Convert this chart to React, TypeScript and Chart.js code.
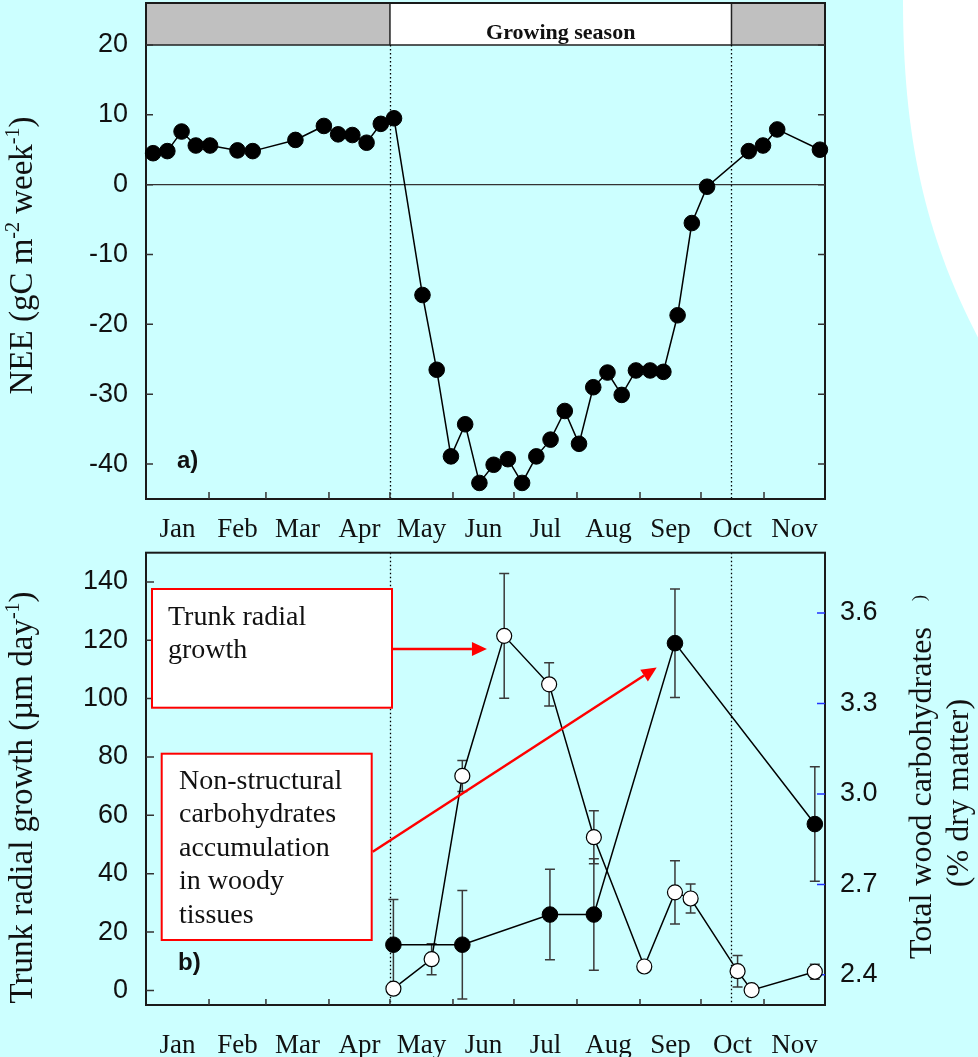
import React, { useEffect, useRef } from "react";
import { Chart, registerables } from "chart.js";

Chart.register(...registerables);

// ---- data -------------------------------------------------------------
const MONTHS = ["Jan", "Feb", "Mar", "Apr", "May", "Jun", "Jul", "Aug", "Sep", "Oct", "Nov"];
// day of year on which each month starts (last entry: 1 Dec, end of the axis)
const MONTH_STARTS = [0, 31, 59, 90, 120, 151, 181, 212, 243, 273, 304, 334];
const SEASON_START = 120;
const SEASON_END = 288;

// (a) weekly net ecosystem exchange
const NEE_DAYS = [
  3.5, 10.5, 17.5, 24.5, 31.5, 45, 52.5, 73.5, 87.5, 94.5, 101.5, 108.5, 115.5, 122,
  136, 143, 150, 157, 164, 171, 178, 185, 192, 199, 206, 213, 220, 227, 234, 241, 248,
  254.5, 261.5, 268.5, 276, 296.5, 303.5, 310.5, 331.5,
];
const NEE_VALUES = [
  4.5, 4.8, 7.6, 5.6, 5.6, 4.9, 4.8, 6.4, 8.4, 7.2, 7.1, 6.0, 8.7, 9.5,
  -15.8, -26.5, -38.9, -34.3, -42.7, -40.1, -39.3, -42.7, -38.9, -36.5, -32.4, -37.1,
  -29.0, -26.9, -30.1, -26.6, -26.6, -26.8, -18.7, -5.5, -0.3, 4.8, 5.6, 7.9, 5.0,
];
const NEE_TICKS = [-40, -30, -20, -10, 0, 10, 20];

// (b) trunk radial growth (left axis)
const GROWTH_DAYS = [121.7, 140.5, 155.6, 176.2, 198.3, 220.3, 245.1, 260.2, 267.9, 291, 297.9, 329];
const GROWTH_VALUES = [0.6, 10.7, 73.5, 121.5, 104.9, 52.5, 8.2, 33.6, 31.5, 6.6, 0.1, 6.4];
const GROWTH_ERRORS = [1.5, 5.3, 5.3, 21.4, 7.4, 9.1, 0, 10.8, 5, 5.4, 0, 2.6];
const GROWTH_TICKS = [0, 20, 40, 60, 80, 100, 120, 140];

// (b) total wood carbohydrates (right axis)
const CARB_DAYS = [121.7, 155.6, 198.7, 220.3, 260.2, 329];
const CARB_VALUES = [2.5, 2.5, 2.6, 2.6, 3.5, 2.9];
const CARB_ERRORS = [0.15, 0.18, 0.15, 0.185, 0.18, 0.19];
const CARB_TICKS = [2.4, 2.7, 3.0, 3.3, 3.6];

// callout targets (day, growth-axis value)
const GROWTH_CALLOUT_TARGET = [167.7, 117];
const CARB_CALLOUT_TARGET = [251.2, 110.7];

// ---- styling ----------------------------------------------------------
const SERIF = '"Liberation Serif", "Times New Roman", serif';
const SANS = '"Liberation Sans", Arial, sans-serif';
const BG = "#CCFFFF";
const INK = "#111";
const RED = "#ff0000";

const monthMids = MONTHS.map((_, i) => (MONTH_STARTS[i] + MONTH_STARTS[i + 1]) / 2);

type Part = { text: string; size: number; rise?: number; family?: string };

function drawRotated(ctx: CanvasRenderingContext2D, parts: Part[], baseX: number, centerY: number) {
  ctx.save();
  const widths = parts.map((p) => {
    ctx.font = `${p.size}px ${p.family || SERIF}`;
    return ctx.measureText(p.text).width;
  });
  const total = widths.reduce((s, w) => s + w, 0);
  ctx.translate(baseX, centerY);
  ctx.rotate(-Math.PI / 2);
  ctx.textAlign = "left";
  ctx.textBaseline = "alphabetic";
  ctx.fillStyle = INK;
  let pos = -total / 2;
  parts.forEach((p, i) => {
    ctx.font = `${p.size}px ${p.family || SERIF}`;
    ctx.fillText(p.text, pos, -(p.rise || 0));
    pos += widths[i];
  });
  ctx.restore();
}

function drawTicksX(ctx: CanvasRenderingContext2D, chart: any, len: number) {
  const { chartArea: a, scales } = chart;
  ctx.save();
  ctx.strokeStyle = "#333";
  ctx.lineWidth = 1.5;
  ctx.beginPath();
  MONTH_STARTS.slice(1, -1).forEach((d) => {
    const px = scales.x.getPixelForValue(d);
    ctx.moveTo(px, a.bottom);
    ctx.lineTo(px, a.bottom - len);
  });
  ctx.stroke();
  ctx.restore();
}

function drawTicksY(ctx: CanvasRenderingContext2D, scale: any, values: number[], x0: number, dir: number, len: number, color: string) {
  ctx.save();
  ctx.strokeStyle = color;
  ctx.lineWidth = 1.5;
  ctx.beginPath();
  values.forEach((v) => {
    const py = scale.getPixelForValue(v);
    ctx.moveTo(x0, py);
    ctx.lineTo(x0 + dir * len, py);
  });
  ctx.stroke();
  ctx.restore();
}

function dottedVertical(ctx: CanvasRenderingContext2D, x: number, y0: number, y1: number) {
  ctx.save();
  ctx.strokeStyle = "#000";
  ctx.lineWidth = 1.3;
  ctx.setLineDash([1.5, 2.5]);
  ctx.beginPath();
  ctx.moveTo(Math.round(x) + 0.5, y0);
  ctx.lineTo(Math.round(x) + 0.5, y1);
  ctx.stroke();
  ctx.restore();
}

function arrow(ctx: CanvasRenderingContext2D, x0: number, y0: number, x1: number, y1: number) {
  const ang = Math.atan2(y1 - y0, x1 - x0);
  const head = 15;
  const half = 7;
  const bx = x1 - head * Math.cos(ang);
  const by = y1 - head * Math.sin(ang);
  ctx.save();
  ctx.strokeStyle = RED;
  ctx.fillStyle = RED;
  ctx.lineWidth = 2.5;
  ctx.beginPath();
  ctx.moveTo(x0, y0);
  ctx.lineTo(bx, by);
  ctx.stroke();
  ctx.beginPath();
  ctx.moveTo(x1, y1);
  ctx.lineTo(bx - half * Math.sin(ang), by + half * Math.cos(ang));
  ctx.lineTo(bx + half * Math.sin(ang), by - half * Math.cos(ang));
  ctx.closePath();
  ctx.fill();
  ctx.restore();
}

function calloutBox(ctx: CanvasRenderingContext2D, x: number, y: number, w: number, h: number, lines: string[], tx: number, firstBase: number, step: number) {
  ctx.save();
  ctx.fillStyle = "#fff";
  ctx.fillRect(x, y, w, h);
  ctx.strokeStyle = RED;
  ctx.lineWidth = 2;
  ctx.strokeRect(x, y, w, h);
  ctx.fillStyle = INK;
  ctx.font = `28px ${SERIF}`;
  ctx.textAlign = "left";
  ctx.textBaseline = "alphabetic";
  lines.forEach((l, i) => ctx.fillText(l, tx, firstBase + i * step));
  ctx.restore();
}

const monthAxis = (padding: number, height: number) => ({
  type: "linear" as const,
  position: "bottom" as const,
  min: MONTH_STARTS[0],
  max: MONTH_STARTS[MONTH_STARTS.length - 1],
  afterBuildTicks: (s: any) => {
    s.ticks = monthMids.map((v) => ({ value: v }));
  },
  afterFit: (s: any) => {
    s.height = height;
    s.paddingLeft = 0;
    s.paddingRight = 0;
  },
  ticks: {
    callback: (_v: any, i: number) => MONTHS[i] ?? "",
    font: { family: SERIF, size: 27 },
    color: INK,
    padding,
    autoSkip: false,
    maxRotation: 0,
    minRotation: 0,
  },
  grid: { display: false, drawTicks: false, tickLength: 0 },
  border: { display: false },
});

const valueAxis = (min: number, max: number, ticks: number[], width: number, position: "left" | "right", padding: number, fmt?: (v: number) => string) => ({
  type: "linear" as const,
  position,
  min,
  max,
  afterBuildTicks: (s: any) => {
    s.ticks = ticks.map((v) => ({ value: v }));
  },
  afterFit: (s: any) => {
    s.width = width;
    s.paddingTop = 0;
    s.paddingBottom = 0;
  },
  ticks: {
    font: { family: SANS, size: 27 },
    color: INK,
    padding,
    autoSkip: false,
    callback: (v: any) => (fmt ? fmt(Number(v)) : String(v)),
  },
  grid: { display: false, drawTicks: false, tickLength: 0 },
  border: { display: false },
});

// ---- (a) NEE panel ---------------------------------------------------
function neeConfig(): any {
  const decor = {
    id: "neeDecor",
    beforeDraw(chart: any) {
      const ctx = chart.ctx as CanvasRenderingContext2D;
      ctx.save();
      ctx.fillStyle = "#fff";
      ctx.beginPath();
      ctx.moveTo(903, 0);
      ctx.bezierCurveTo(903, 140, 926, 240, 982, 345);
      ctx.lineTo(982, 0);
      ctx.closePath();
      ctx.fill();
      ctx.restore();
    },
    beforeDatasetsDraw(chart: any) {
      const ctx = chart.ctx as CanvasRenderingContext2D;
      const { chartArea: a, scales } = chart;
      const x = scales.x;
      const y = scales.y;
      const yBand = y.getPixelForValue(20);
      const xs = x.getPixelForValue(SEASON_START);
      const xe = x.getPixelForValue(SEASON_END);
      ctx.save();
      // season band
      ctx.fillStyle = "#c0c0c0";
      ctx.fillRect(a.left, a.top, xs - a.left, yBand - a.top);
      ctx.fillRect(xe, a.top, a.right - xe, yBand - a.top);
      ctx.fillStyle = "#fff";
      ctx.fillRect(xs, a.top, xe - xs, yBand - a.top);
      ctx.strokeStyle = "#222";
      ctx.lineWidth = 1.5;
      ctx.beginPath();
      ctx.moveTo(a.left, yBand);
      ctx.lineTo(a.right, yBand);
      ctx.moveTo(xs, a.top);
      ctx.lineTo(xs, yBand);
      ctx.moveTo(xe, a.top);
      ctx.lineTo(xe, yBand);
      ctx.stroke();
      ctx.fillStyle = INK;
      ctx.font = `bold 22px ${SERIF}`;
      ctx.textAlign = "center";
      ctx.textBaseline = "alphabetic";
      ctx.fillText("Growing season", (xs + xe) / 2, 39);
      // zero line
      const y0 = y.getPixelForValue(0);
      ctx.strokeStyle = "#333";
      ctx.lineWidth = 1.2;
      ctx.beginPath();
      ctx.moveTo(a.left, y0);
      ctx.lineTo(a.right, y0);
      ctx.stroke();
      ctx.restore();
      dottedVertical(ctx, xs, yBand, a.bottom);
      dottedVertical(ctx, xe, yBand, a.bottom);
      // frame and inward ticks
      ctx.save();
      ctx.strokeStyle = "#1a1a1a";
      ctx.lineWidth = 2;
      ctx.strokeRect(a.left, a.top, a.right - a.left, a.bottom - a.top);
      ctx.restore();
      drawTicksX(ctx, chart, 7);
      drawTicksY(ctx, y, NEE_TICKS, a.left, 1, 7, "#333");
      drawTicksY(ctx, y, NEE_TICKS, a.right, -1, 7, "#333");
      // panel label and axis title
      ctx.save();
      ctx.fillStyle = INK;
      ctx.font = `bold 24px ${SANS}`;
      ctx.textAlign = "left";
      ctx.textBaseline = "middle";
      ctx.fillText("a)", 177, 461);
      ctx.restore();
      drawRotated(
        ctx,
        [
          { text: "NEE (gC m", size: 33 },
          { text: "-2", size: 20, rise: 13 },
          { text: " week", size: 33 },
          { text: "-1", size: 20, rise: 13 },
          { text: ")", size: 33 },
        ],
        32,
        255.5
      );
    },
  };

  return {
    type: "line",
    data: {
      datasets: [
        {
          data: NEE_DAYS.map((d, i) => ({ x: d, y: NEE_VALUES[i] })),
          borderColor: "#000",
          borderWidth: 1.5,
          pointRadius: 7.8,
          pointBackgroundColor: "#000",
          pointBorderColor: "#000",
          pointBorderWidth: 1,
          tension: 0,
          clip: false,
        },
      ],
    },
    options: {
      animation: false,
      responsive: true,
      maintainAspectRatio: false,
      events: [],
      layout: { autoPadding: false, padding: { left: 0, right: 153, top: 3, bottom: 0 } },
      plugins: { legend: { display: false }, tooltip: { enabled: false } },
      scales: {
        x: monthAxis(15, 49),
        y: valueAxis(-45, 26, NEE_TICKS, 146, "left", 18),
      },
    },
    plugins: [decor],
  };
}

// ---- (b) growth / carbohydrate panel --------------------------------
function growthConfig(): any {
  const errorBars = (ctx: CanvasRenderingContext2D, x: any, y: any, days: number[], vals: number[], errs: number[]) => {
    ctx.save();
    ctx.strokeStyle = "#3a3a3a";
    ctx.lineWidth = 1.5;
    ctx.beginPath();
    days.forEach((d, i) => {
      if (!errs[i]) return;
      const px = x.getPixelForValue(d);
      const top = y.getPixelForValue(vals[i] + errs[i]);
      const bot = y.getPixelForValue(vals[i] - errs[i]);
      ctx.moveTo(px, top);
      ctx.lineTo(px, bot);
      ctx.moveTo(px - 5, top);
      ctx.lineTo(px + 5, top);
      ctx.moveTo(px - 5, bot);
      ctx.lineTo(px + 5, bot);
    });
    ctx.stroke();
    ctx.restore();
  };

  const decor = {
    id: "growthDecor",
    beforeDatasetsDraw(chart: any) {
      const ctx = chart.ctx as CanvasRenderingContext2D;
      const { chartArea: a, scales } = chart;
      const { x, y, y2 } = scales;
      dottedVertical(ctx, x.getPixelForValue(SEASON_START), a.top, a.bottom);
      dottedVertical(ctx, x.getPixelForValue(SEASON_END), a.top, a.bottom);
      ctx.save();
      ctx.strokeStyle = "#1a1a1a";
      ctx.lineWidth = 2;
      ctx.strokeRect(a.left, a.top, a.right - a.left, a.bottom - a.top);
      ctx.restore();
      drawTicksX(ctx, chart, 6);
      drawTicksY(ctx, y, GROWTH_TICKS, a.left, 1, 8, "#333");
      drawTicksY(ctx, y2, CARB_TICKS, a.right, -1, 8, "#2233ff");
      errorBars(ctx, x, y2, CARB_DAYS, CARB_VALUES, CARB_ERRORS);
      errorBars(ctx, x, y, GROWTH_DAYS, GROWTH_VALUES, GROWTH_ERRORS);
      ctx.save();
      ctx.fillStyle = INK;
      ctx.font = `bold 24px ${SANS}`;
      ctx.textAlign = "left";
      ctx.textBaseline = "middle";
      ctx.fillText("b)", 178, 415);
      ctx.restore();
      drawRotated(
        ctx,
        [
          { text: "Trunk radial growth (\u00b5m day", size: 33 },
          { text: "-1", size: 20, rise: 13 },
          { text: ")", size: 33 },
        ],
        32,
        249.5
      );
      drawRotated(
        ctx,
        [{ text: "Total wood carbohydrates", size: 32 }],
        931,
        245
      );
      drawRotated(ctx, [{ text: ")", size: 18 }], 925, 50);
      drawRotated(ctx, [{ text: "(% dry matter)", size: 32 }], 968, 245);
    },
    afterDatasetsDraw(chart: any) {
      const ctx = chart.ctx as CanvasRenderingContext2D;
      const { x, y } = chart.scales;
      calloutBox(ctx, 152, 41, 240, 118.7, ["Trunk radial", "growth"], 168, 77, 33);
      calloutBox(ctx, 161.7, 205.7, 210, 186.3, ["Non-structural", "carbohydrates", "accumulation", "in woody", "tissues"], 179, 240.5, 33.6);
      const t1x = x.getPixelForValue(GROWTH_CALLOUT_TARGET[0]);
      const t1y = y.getPixelForValue(GROWTH_CALLOUT_TARGET[1]);
      arrow(ctx, 393, t1y, t1x, t1y);
      const t2x = x.getPixelForValue(CARB_CALLOUT_TARGET[0]);
      const t2y = y.getPixelForValue(CARB_CALLOUT_TARGET[1]);
      arrow(ctx, 372.7, 303.7, t2x, t2y);
    },
  };

  return {
    type: "line",
    data: {
      datasets: [
        {
          label: "Total wood carbohydrates",
          yAxisID: "y2",
          data: CARB_DAYS.map((d, i) => ({ x: d, y: CARB_VALUES[i] })),
          borderColor: "#000",
          borderWidth: 1.5,
          pointRadius: 7.8,
          pointBackgroundColor: "#000",
          pointBorderColor: "#000",
          pointBorderWidth: 1,
          tension: 0,
          clip: false,
        },
        {
          label: "Trunk radial growth",
          yAxisID: "y",
          data: GROWTH_DAYS.map((d, i) => ({ x: d, y: GROWTH_VALUES[i] })),
          borderColor: "#000",
          borderWidth: 1.5,
          pointRadius: 7.5,
          pointBackgroundColor: "#fff",
          pointBorderColor: "#000",
          pointBorderWidth: 1.2,
          tension: 0,
          clip: false,
        },
      ],
    },
    options: {
      animation: false,
      responsive: true,
      maintainAspectRatio: false,
      events: [],
      layout: { autoPadding: false, padding: { left: 0, right: 0, top: 4.7, bottom: 0 } },
      plugins: { legend: { display: false }, tooltip: { enabled: false } },
      scales: {
        x: monthAxis(25, 52),
        y: valueAxis(-5, 150, GROWTH_TICKS, 146, "left", 18),
        y2: valueAxis(2.3, 3.8, CARB_TICKS, 153, "right", 15, (v) => v.toFixed(1)),
      },
    },
    plugins: [decor],
  };
}

export default function App() {
  const topRef = useRef<HTMLCanvasElement>(null);
  const bottomRef = useRef<HTMLCanvasElement>(null);

  useEffect(() => {
    const top = new Chart(topRef.current as HTMLCanvasElement, neeConfig());
    const bottom = new Chart(bottomRef.current as HTMLCanvasElement, growthConfig());
    return () => {
      top.destroy();
      bottom.destroy();
    };
  }, []);

  return (
    <div style={{ position: "absolute", left: 0, top: 0, width: 978, height: 1057, background: BG, overflow: "hidden" }}>
      <div style={{ position: "absolute", left: 0, top: 0, width: 978, height: 548 }}>
        <canvas ref={topRef} />
      </div>
      <div style={{ position: "absolute", left: 0, top: 548, width: 978, height: 509 }}>
        <canvas ref={bottomRef} />
      </div>
    </div>
  );
}
